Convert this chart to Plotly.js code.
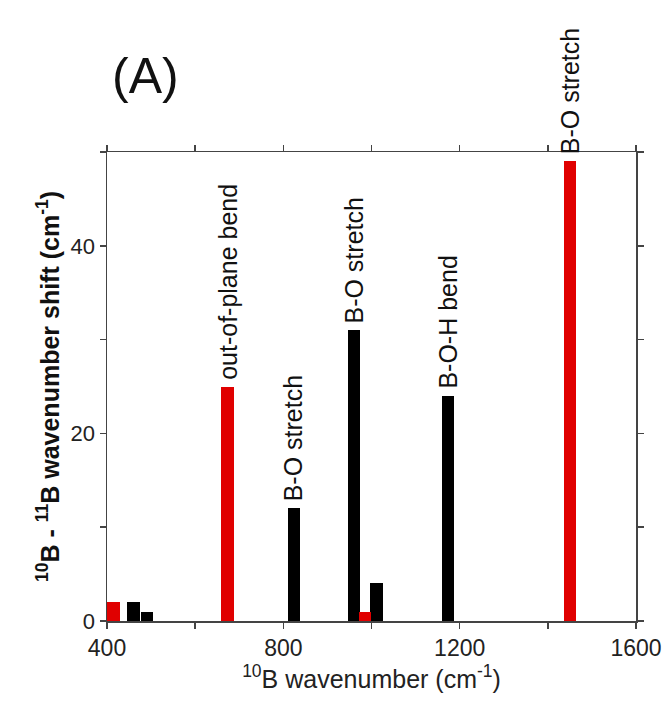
<!DOCTYPE html>
<html>
<head>
<meta charset="utf-8">
<script src="https://cdn.plot.ly/plotly-3.0.1.min.js"></script>
<style>html,body{margin:0;padding:0;background:#fff;}#chart{width:665px;height:702px;}</style>
</head>
<body>
<div id="chart"></div>
<script>
// 10B wavenumber (cm-1) and 10B-11B shift (cm-1)
var redX = [415, 673, 985, 1450];
var redY = [2, 25, 1, 49];
var blackX = [460, 490, 824, 961, 1011, 1174];
var blackY = [2, 1, 12, 31, 4, 24];

// mode labels: [series, index, text]
var labelSeries = ['red', 'black', 'black', 'black', 'red'];
var labelIndex = [1, 2, 3, 5, 3];
var labelText = ['out-of-plane bend', 'B-O stretch', 'B-O stretch', 'B-O-H bend', 'B-O stretch'];

var FONT = 'Liberation Sans, Arial, Helvetica, sans-serif';
var RED = '#e00000';
var AX = '#444444';

var traces = [
  {type: 'bar', x: blackX, y: blackY, width: 28, marker: {color: '#000000', line: {width: 0}}, showlegend: false, hoverinfo: 'x+y'},
  {type: 'bar', x: redX, y: redY, width: 28, marker: {color: RED, line: {width: 0}}, showlegend: false, hoverinfo: 'x+y'}
];

var annotations = labelText.map(function (t, i) {
  var xs = labelSeries[i] === 'red' ? redX : blackX;
  var ys = labelSeries[i] === 'red' ? redY : blackY;
  return {
    x: xs[labelIndex[i]], y: ys[labelIndex[i]], xref: 'x', yref: 'y',
    text: t, showarrow: false, textangle: -90,
    xanchor: 'center', yanchor: 'bottom', yshift: 5,
    font: {family: FONT, size: 25, color: '#111'}
  };
});
annotations.push({
  xref: 'paper', yref: 'paper', x: 0.006, y: 1.162, xanchor: 'left', yanchor: 'middle',
  text: '(A)', showarrow: false, font: {family: FONT, size: 50, color: '#111'}
});

var layout = {
  width: 665, height: 702,
  margin: {l: 107, r: 29, t: 152, b: 81, pad: 0},
  paper_bgcolor: '#fff', plot_bgcolor: '#fff',
  barmode: 'overlay', bargap: 0,
  font: {family: FONT, size: 22, color: '#222'},
  xaxis: {
    range: [400, 1600], dtick: 400, tick0: 400,
    ticks: 'outside', ticklen: 6, tickwidth: 1.5, tickcolor: AX,
    minor: {dtick: 200, tick0: 400, ticks: 'outside', ticklen: 6, tickwidth: 1.5, tickcolor: AX, showgrid: false},
    showline: true, linecolor: AX, linewidth: 1.5, mirror: 'ticks',
    showgrid: false, zeroline: false,
    tickfont: {family: FONT, size: 23, color: '#222'},
    title: {text: '<sup>10</sup>B wavenumber (cm<sup>-1</sup>)', font: {family: FONT, size: 25, color: '#222'}, standoff: 8}
  },
  yaxis: {
    range: [0, 50], dtick: 20, tick0: 0,
    ticks: 'outside', ticklen: 6, tickwidth: 1.5, tickcolor: AX,
    minor: {dtick: 10, tick0: 0, ticks: 'outside', ticklen: 6, tickwidth: 1.5, tickcolor: AX, showgrid: false},
    showline: true, linecolor: AX, linewidth: 1.5, mirror: 'ticks',
    showgrid: false, zeroline: false,
    tickfont: {family: FONT, size: 22, color: '#222'},
    title: {text: '<b><sup>10</sup>B - <sup>11</sup>B wavenumber shift (cm<sup>-1</sup>)</b>', font: {family: FONT, size: 25, color: '#111'}, standoff: 4}
  },
  annotations: annotations
};

Plotly.newPlot('chart', traces, layout, {displayModeBar: false, staticPlot: true});
</script>
</body>
</html>
